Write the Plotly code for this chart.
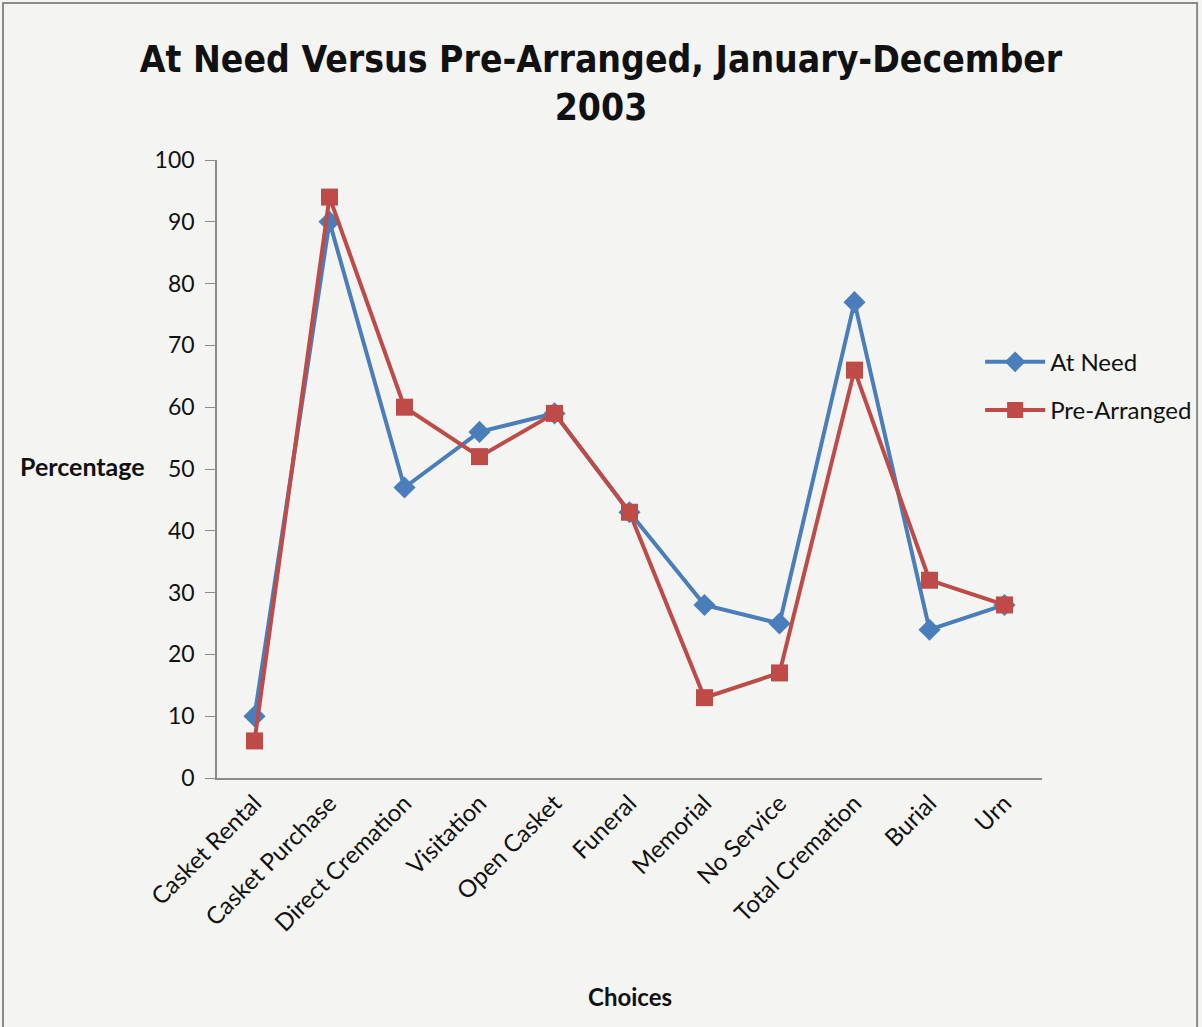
import plotly.graph_objects as go

# Choice categories and the share (%) of each in the two arrangement groups
choices = ["Casket Rental", "Casket Purchase", "Direct Cremation", "Visitation",
           "Open Casket", "Funeral", "Memorial", "No Service", "Total Cremation",
           "Burial", "Urn"]
at_need = [10, 90, 47, 56, 59, 43, 28, 25, 77, 24, 28]
pre_arranged = [6, 94, 60, 52, 59, 43, 13, 17, 66, 32, 28]

y_ticks = [0, 10, 20, 30, 40, 50, 60, 70, 80, 90, 100]

BLUE = "#4A7EBB"
RED = "#BE4B48"
BODY_FONT = "Lato, Open Sans, sans-serif"
TITLE_FONT = "DejaVu Sans Condensed, Liberation Sans Narrow, Arial Narrow, sans-serif"

fig = go.Figure()
fig.add_trace(go.Scatter(
    x=choices, y=at_need, name="At Need", mode="lines+markers",
    legendgroup="need",
    line=dict(color=BLUE, width=4),
    marker=dict(symbol="diamond", size=17, color=BLUE),
))
fig.add_trace(go.Scatter(
    x=choices, y=pre_arranged, name="Pre-Arranged", mode="lines+markers",
    legendgroup="pre",
    line=dict(color=RED, width=4),
    marker=dict(symbol="square", size=17, color=RED),
))

fig.update_layout(
    width=1202, height=1027,
    margin=dict(l=217, r=160, t=160, b=249, autoexpand=False),
    paper_bgcolor="#F4F4F2", plot_bgcolor="#F4F4F2",
    title=dict(
        text="<b>At Need Versus Pre-Arranged, January-December<br>2003</b>",
        x=0.5, xanchor="center", y=0.930, yanchor="middle",
        font=dict(family=TITLE_FONT, size=37, color="#111111"),
    ),
    font=dict(family=BODY_FONT, color="#111111"),
    legend=dict(
        x=0.925, xanchor="left", y=0.634, yanchor="middle",
        bgcolor="rgba(0,0,0,0)", font=dict(size=24, family=BODY_FONT),
        tracegroupgap=14, itemwidth=60,
    ),
    showlegend=True,
)

fig.update_xaxes(
    type="category", tickangle=-45, range=[-0.5, 10.5],
    showline=True, linecolor="#8C8C8C", linewidth=1.5,
    showgrid=False, ticks="", tickfont=dict(size=24, family=BODY_FONT),
)
fig.update_yaxes(
    range=[0, 100], tickvals=y_ticks,
    showline=True, linecolor="#8C8C8C", linewidth=1.5,
    showgrid=False, zeroline=False,
    ticks="outside", ticklen=10, tickcolor="#8C8C8C",
    ticklabelstandoff=6,
    tickfont=dict(size=23, family=BODY_FONT),
)

# Horizontal y-axis caption on the left side
fig.add_annotation(
    text="<b>Percentage</b>", xref="paper", yref="paper",
    x=-0.241, y=0.505, xanchor="left", yanchor="middle", showarrow=False,
    font=dict(size=25, family=BODY_FONT, color="#111111"),
)
# x-axis caption below the rotated category labels
fig.add_annotation(
    text="<b>Choices</b>", xref="paper", yref="paper",
    x=0.5, y=-0.354, xanchor="center", yanchor="middle", showarrow=False,
    font=dict(size=24, family=BODY_FONT, color="#111111"),
)

# Thin frame around the whole chart
fig.add_shape(
    type="rect", xref="paper", yref="paper",
    x0=-0.2594, x1=1.188, y0=-0.41, y1=1.254,
    line=dict(color="#8A8A8A", width=2), layer="below",
)

fig.write_html("out.html")
